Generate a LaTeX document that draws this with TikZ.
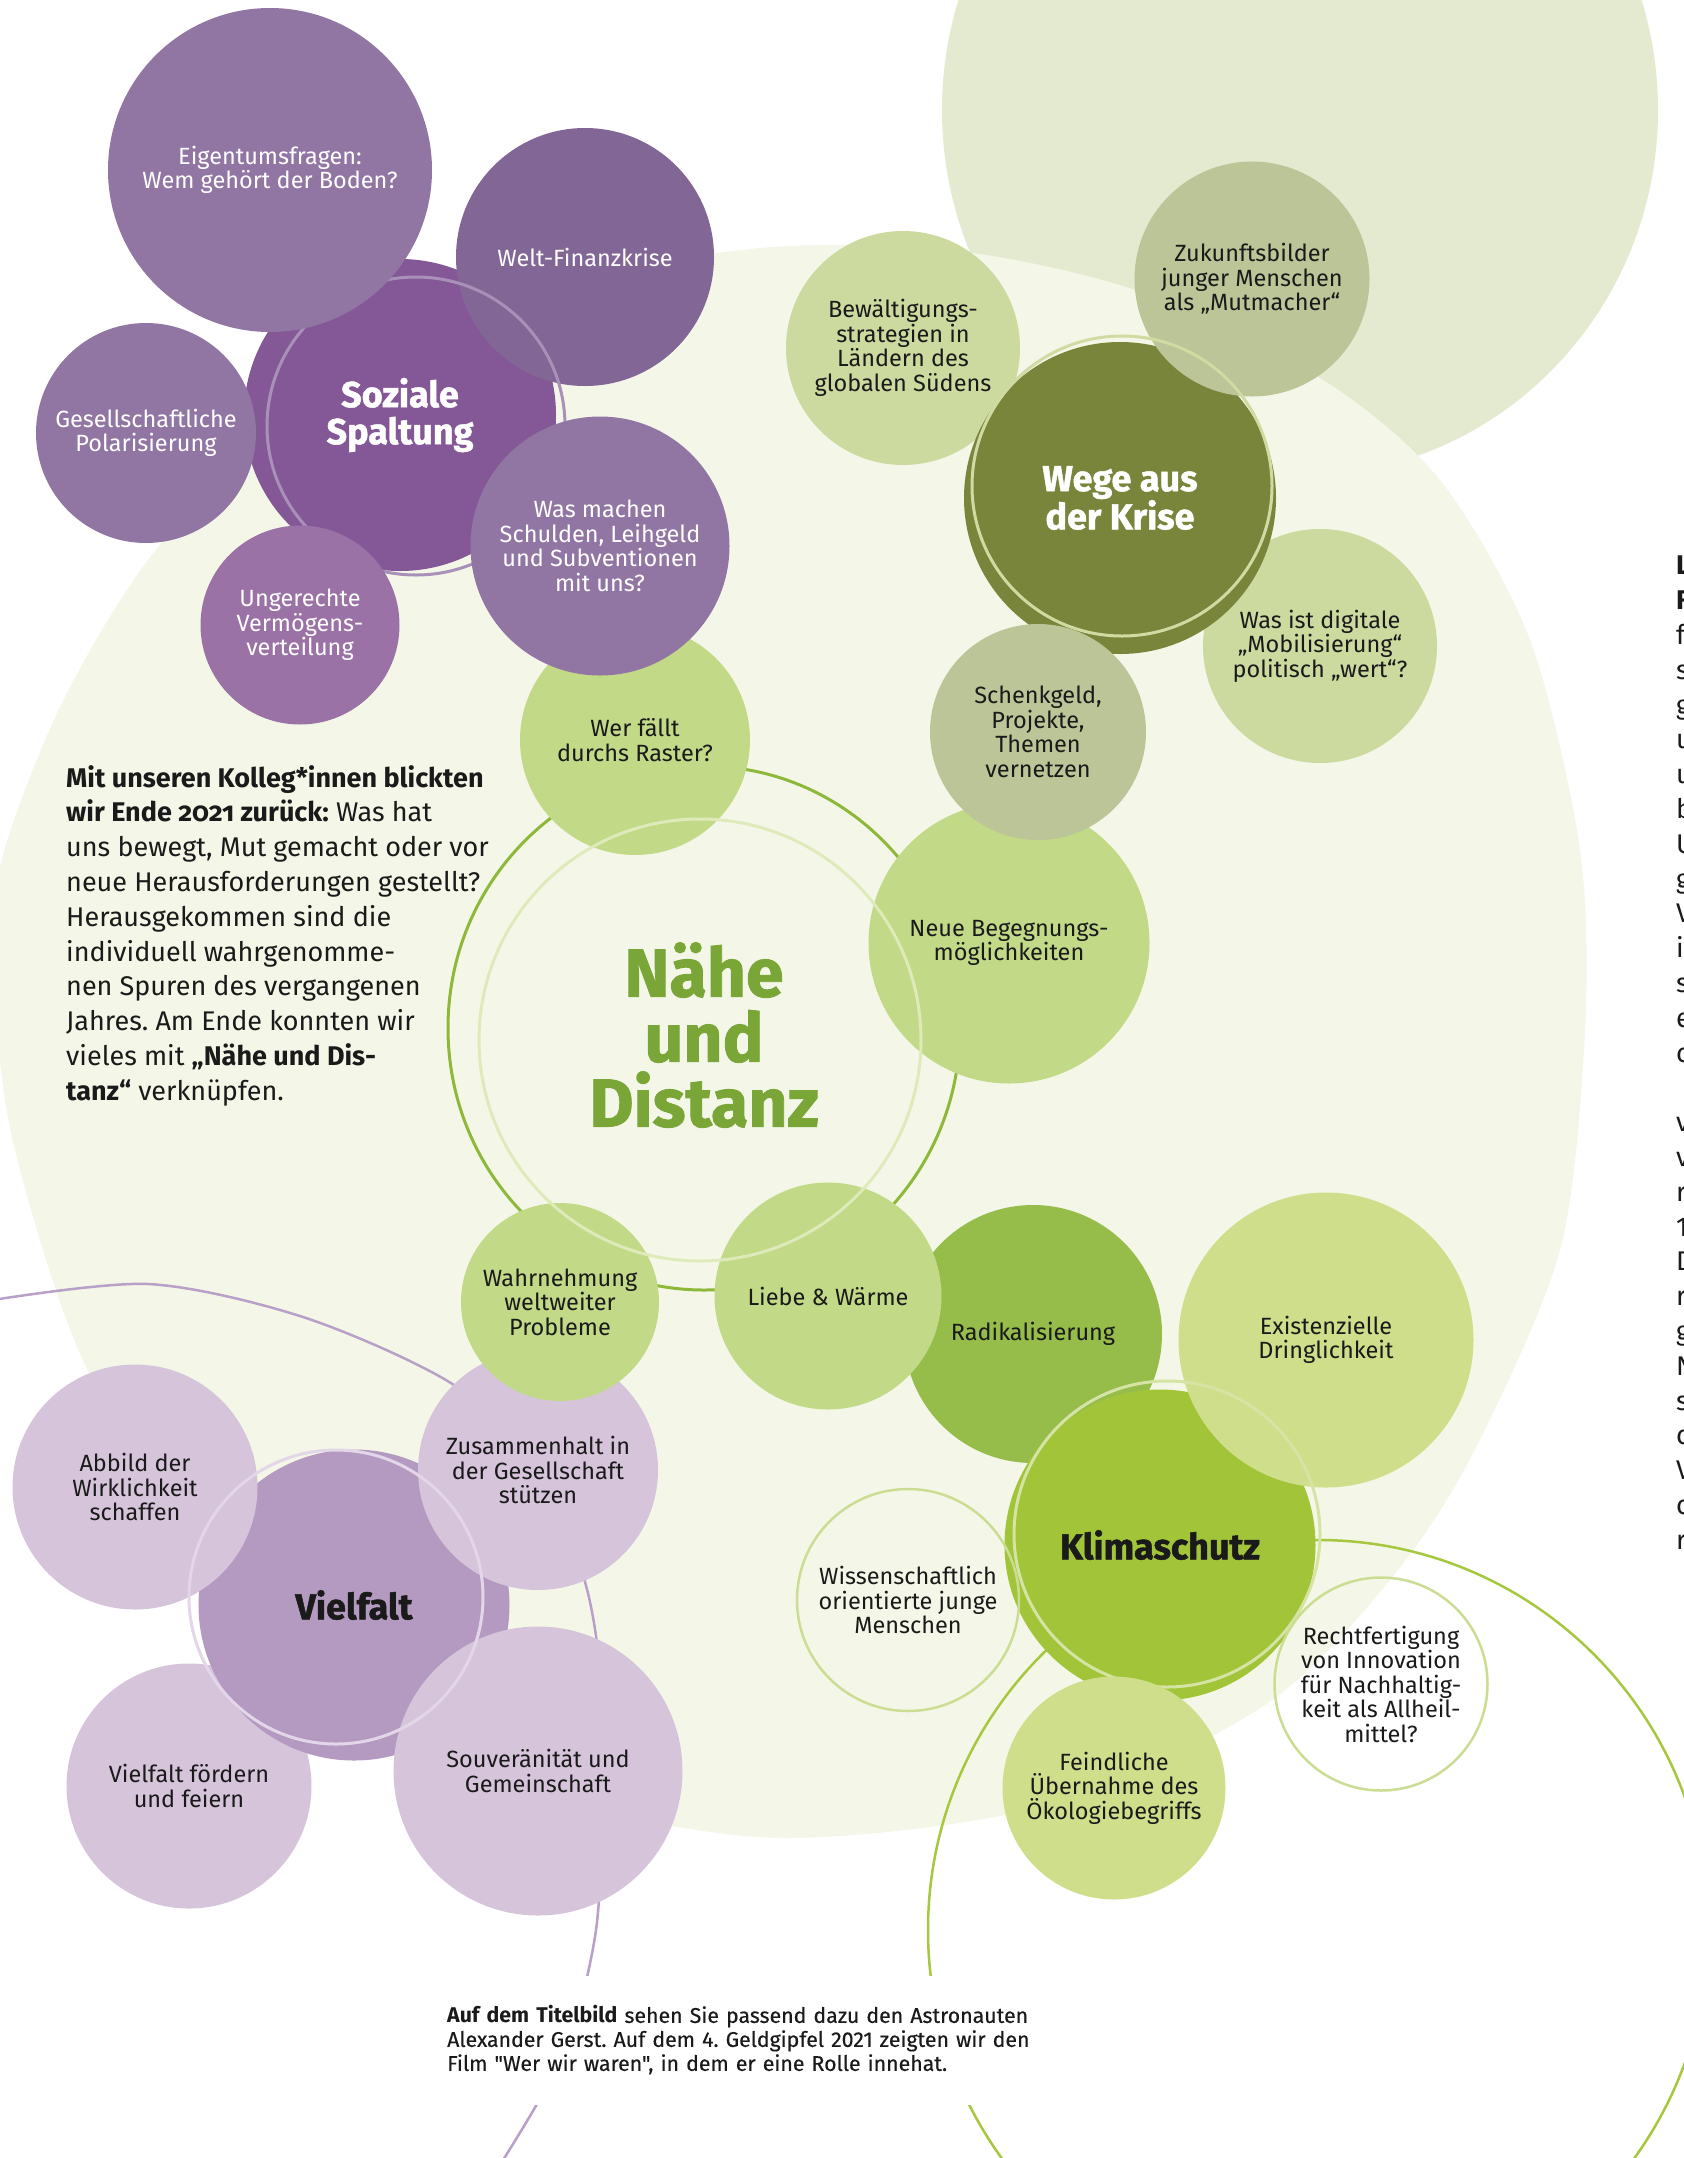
\documentclass[tikz,border=0pt]{standalone}
\usepackage{fontspec}
\setmainfont{Fira Sans}
\newfontfamily\heavy{Fira Sans}[BoldFeatures={FakeBold=1.3}]
\newfontfamily\capfont{Fira Sans}[UprightFeatures={FakeBold=0.4}]
\usetikzlibrary{positioning}

\definecolor{paleBg}{HTML}{F4F7E8}
\definecolor{paleTop}{HTML}{E3EACF}
\definecolor{lilaMid}{HTML}{9176A3}
\definecolor{lilaWelt}{HTML}{826695}
\definecolor{lilaDark}{HTML}{845896}
\definecolor{lilaRose}{HTML}{9A72A6}
\definecolor{lilaRing}{HTML}{A890B8}
\definecolor{vielDark}{HTML}{B49AC0}
\definecolor{vielLight}{HTML}{D6C4DB}
\definecolor{vielRing}{HTML}{E2D6E8}
\definecolor{vielArc}{HTML}{B8A0C8}
\definecolor{gruenHell}{HTML}{C2D987}
\definecolor{gruenLinie}{HTML}{8EB83A}
\definecolor{gruenRing}{HTML}{DFEABA}
\definecolor{gruenText}{HTML}{7AA537}
\definecolor{oliv}{HTML}{7A853C}
\definecolor{olivRing}{HTML}{CFDBA2}
\definecolor{olivGrau}{HTML}{BCC598}
\definecolor{salbei}{HTML}{CCDAA0}
\definecolor{radikal}{HTML}{96BC4A}
\definecolor{limette}{HTML}{CFDE8A}
\definecolor{klima}{HTML}{A2C438}
\definecolor{klimaRing}{HTML}{D5E4A5}
\definecolor{klimaLinie}{HTML}{CADD92}
\definecolor{bogen}{HTML}{A6C73E}
\definecolor{schrift}{HTML}{1A1A1A}

\newcommand\lbl{\fontsize{23.5}{24.5}\selectfont}
\newcommand\hdl{\fontsize{36}{37}\selectfont\heavy\bfseries}
\newcommand\txt{\fontsize{27}{34.8}\selectfont\frenchspacing}

\begin{document}
\begin{tikzpicture}[x=1pt, y=-1pt, text=schrift]

    \tikzstyle{blob}=[circle, inner sep=0pt, align=center, font=\lbl]
    \tikzstyle{ring}=[line width=3pt]

    \useasboundingbox (0,0) rectangle (1684,2158);
    \clip (0,0) rectangle (1684,2158);
    \fill[white] (0,0) rectangle (1684,2158);

    % background shapes
    \fill[paleTop] (1300,110) ellipse (358pt and 366pt);
    \fill[paleBg] plot[smooth cycle] coordinates {(560,285) (760,248) (950,250) (1135,290)
        (1320,378) (1440,480) (1530,640) (1580,850) (1585,1030) (1560,1250) (1472,1455)
        (1390,1580) (1265,1705) (1050,1805) (782,1838) (560,1800) (380,1720) (230,1600)
        (87,1369) (15,1150) (-5,1000) (0,867) (64,699) (163,541) (330,380)};
    \draw[vielArc, line width=2.5pt] plot[smooth] coordinates {(-20,1302) (148,1284) (306,1318)
        (454,1385) (540,1470) (585,1582) (601,1680) (603,1800) (596,1930) (570,2040) (537,2104) (500,2165)};
    \draw[bogen, line width=2.5pt] (1318,1930) circle (390pt);
    \draw[gruenLinie, ring] (704,1028) ellipse (256pt and 262pt);

    % Soziale Spaltung
    \node[blob, fill=lilaDark, text=white, font=\hdl, minimum size=312pt] (soz) at (400,415) {Soziale\\Spaltung};
    \node[blob, fill=lilaWelt, text=white, minimum size=258pt] (welt) at (585,257) {Welt-Finanzkrise};
    \draw[lilaRing, ring] ([shift={(16,11)}]soz.center) circle (149pt);
    \node[blob, fill=lilaMid, text=white, minimum size=324pt] (eigentum) at (270,170) {Eigentumsfragen:\\Wem gehört der Boden?};
    \node[blob, fill=lilaMid, text=white, minimum size=220pt] (polar) at (146,433) {Gesellschaftliche\\Polarisierung};
    \node[blob, fill=lilaRose, text=white, minimum size=199pt] (vermoegen) at (300,625) {Ungerechte\\Vermögens-\\verteilung};
    \node[blob, fill=gruenHell, minimum size=230pt] (raster) at (635,740) {Wer fällt\\durchs Raster?};
    \node[blob, fill=lilaMid, text=white, minimum size=259pt] (schulden) at (600,546) {Was machen\\Schulden, Leihgeld\\und Subventionen\\mit uns?};

    % Wege aus der Krise
    \node[blob, fill=salbei, minimum size=234pt] (sueden) at (903,348) {Bewältigungs-\\strategien in\\Ländern des\\globalen Südens};
    \node[blob, fill=salbei, minimum size=234pt] (digital) at (1320,646) {Was ist digitale\\„Mobilisierung“\\politisch „wert“?};
    \node[blob, fill=oliv, text=white, font=\hdl, minimum size=312pt] (krise) at (1120,498) {Wege aus\\der Krise};
    \node[blob, fill=olivGrau, minimum size=235pt] (zukunft) at (1252,279) {Zukunftsbilder\\junger Menschen\\als „Mutmacher“};
    \draw[olivRing, ring] ([shift={(2,-12)}]krise.center) circle (150pt);
    \node[blob, fill=gruenHell, minimum size=281pt] (begegnung) at (1009,943) {Neue Begegnungs-\\möglichkeiten};
    \node[blob, fill=olivGrau, minimum size=216pt] (schenk) at (1038,732) {Schenkgeld,\\Projekte,\\Themen\\vernetzen};

    % Vielfalt
    \node[blob, fill=vielLight, minimum size=245pt] (feiern) at (189,1786) {Vielfalt fördern\\und feiern};
    \node[blob, fill=vielDark, font=\hdl, minimum size=311pt] (vielfalt) at (354,1605) {Vielfalt};
    \node[blob, fill=vielLight, minimum size=245pt] (abbild) at (135,1487) {Abbild der\\Wirklichkeit\\schaffen};
    \node[blob, fill=vielLight, minimum size=240pt] (zusammen) at (538,1470) {Zusammenhalt in\\der Gesellschaft\\stützen};
    \node[blob, fill=vielLight, minimum size=289pt] (gemeinschaft) at (538,1771) {Souveränität und\\Gemeinschaft};
    \draw[vielRing, ring] ([shift={(-18,-8)}]vielfalt.center) circle (147pt);

    % Klimaschutz
    \node[blob, fill=radikal, minimum size=258pt] (radikal) at (1033,1334) {Radikalisierung};
    \node[blob, fill=gruenHell, minimum size=198pt] (probleme) at (560,1302) {Wahrnehmung\\weltweiter\\Probleme};
    \node[blob, fill=gruenHell, minimum size=227pt] (waerme) at (828,1296) {Liebe \& Wärme};
    \node[blob, fill=klima, font=\hdl, minimum size=311pt] (klima) at (1160,1545) {Klimaschutz};
    \node[blob, fill=limette, minimum size=295pt] (dringlich) at (1326,1340) {Existenzielle\\Dringlichkeit};
    \draw[klimaRing, ring] ([shift={(7,-11)}]klima.center) circle (153pt);
    \node[blob, fill=limette, minimum size=223pt] (oeko) at (1114,1788) {Feindliche\\Übernahme des\\Ökologiebegriffs};
    \node[blob, draw=klimaLinie, line width=2.5pt, minimum size=222pt] (forschung) at (908,1600) {Wissenschaftlich\\orientierte junge\\Menschen};
    \node[blob, draw=klimaLinie, line width=2.5pt, minimum size=213pt] (innovation) at (1381,1684) {Rechtfertigung\\von Innovation\\für Nachhaltig-\\keit als Allheil-\\mittel?};

    % Naehe und Distanz
    \draw[gruenRing, ring] (700,1040) circle (221pt);
    \node[font=\fontsize{68}{65}\selectfont\heavy\bfseries, text=gruenText, align=center] (naehe) at (704,1035) {Nähe\\und\\Distanz};

    % texts
    \node[anchor=north west, align=left, font=\txt, inner sep=0pt] (rueckblick) at (66,765)
        {\textbf{Mit unseren Kolleg*innen blickten}\\
         \textbf{wir Ende {\addfontfeatures{Numbers=OldStyle}2021} zurück:} Was hat\\
         uns bewegt, Mut gemacht oder vor\\
         neue Herausforderungen gestellt?\\
         Herausgekommen sind die\\
         individuell wahrgenomme-\\
         nen Spuren des vergangenen\\
         Jahres. Am Ende konnten wir\\
         vieles mit \textbf{„Nähe und Dis-}\\
         \textbf{tanz“} verknüpfen.};
    \node[fill=white, anchor=west, inner xsep=17pt, inner ysep=0pt, minimum height=129pt,
          text width=640pt, align=left, font=\capfont\fontsize{21.3}{24}\selectfont\frenchspacing] (titelbild) at (430,2040)
        {\textbf{Auf dem Titelbild} sehen Sie passend dazu den Astronauten\\
         Alexander Gerst. Auf dem 4. Geldgipfel 2021 zeigten wir den\\
         Film "Wer wir waren", in dem er eine Rolle innehat.};
    \node[anchor=north west, align=left, font=\txt, inner sep=0pt] (randspalte) at (1676,556)
        {\textbf{L}\\\textbf{F}\\f\\s\\g\\u\\u\\b\\U\\g\\V\\i\\s\\e\\c\\[34.8pt]
         v\\v\\r\\1\\D\\r\\g\\N\\s\\c\\V\\c\\r};

\end{tikzpicture}
\end{document}
